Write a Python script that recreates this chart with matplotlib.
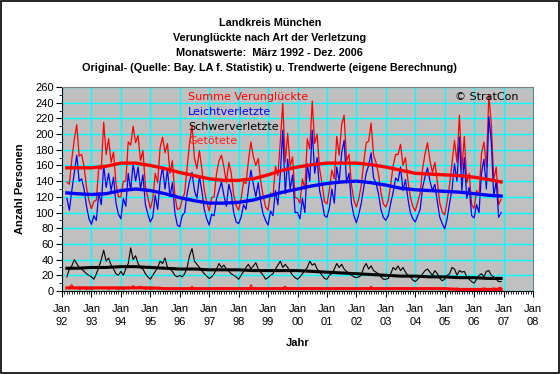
import numpy as np
import matplotlib.pyplot as plt
from matplotlib.ticker import MultipleLocator
from matplotlib.patches import Rectangle

plt.rcParams['font.family'] = ['Liberation Sans', 'DejaVu Sans']

# Monatswerte Maerz 1992 - Dez. 2006
start_year, start_month = 1992, 3

leicht = [
    118, 103, 128, 150, 173, 140, 143, 130, 108, 92,               # 1992
    85, 96, 90, 125, 110, 160, 132, 150, 128, 145, 112, 98,        # 1993
    92, 118, 108, 150, 128, 163, 140, 158, 130, 148, 110, 98,      # 1994
    88, 94, 122, 104, 140, 158, 130, 155, 120, 138, 100, 84,       # 1995
    82, 96, 100, 124, 140, 151, 128, 118, 146, 128, 104, 92,       # 1996
    84, 98, 96, 118, 128, 139, 122, 108, 136, 124, 100, 88,        # 1997
    86, 94, 110, 104, 130, 154, 136, 120, 138, 114, 98, 90,        # 1998
    84, 102, 96, 128, 110, 150, 205, 124, 168, 130, 148, 100,      # 1999
    100, 92, 118, 100, 162, 140, 205, 150, 170, 128, 114, 96,      # 2000
    94, 106, 130, 112, 158, 140, 176, 192, 138, 150, 112, 96,      # 2001
    87, 98, 112, 132, 150, 160, 176, 144, 138, 124, 104, 94,       # 2002
    90, 96, 112, 126, 144, 140, 158, 128, 142, 118, 100, 92,       # 2003
    88, 96, 104, 132, 146, 157, 140, 128, 136, 114, 94, 86,        # 2004
    79, 92, 112, 130, 162, 140, 196, 128, 170, 118, 132, 96,       # 2005
    93, 110, 100, 150, 168, 130, 222, 190, 120, 140, 94, 100,      # 2006
]

schwer = [
    18, 28, 32, 40, 35, 30, 28, 25, 22, 20,
    18, 15, 22, 30, 40, 52, 38, 42, 33, 28, 22, 20,
    25, 20, 28, 35, 55, 40, 45, 35, 30, 28, 22, 18,
    15, 20, 25, 30, 38, 35, 42, 30, 28, 25, 20, 18,
    20, 18, 22, 30, 45, 54, 38, 34, 30, 26, 22, 19,
    16, 18, 22, 28, 35, 30, 33, 28, 25, 22, 20, 18,
    15, 20, 25, 30, 34, 28, 32, 36, 28, 24, 20, 15,
    17, 20, 22, 28, 33, 38, 30, 34, 30, 25, 20, 17,
    15, 18, 22, 26, 30, 38, 33, 35, 28, 24, 20, 16,
    15, 20, 22, 28, 35, 30, 34, 28, 25, 22, 20, 18,
    17, 18, 20, 30, 35, 28, 32, 26, 24, 22, 18, 15,
    15, 16, 22, 30, 27, 32, 26, 30, 24, 20, 18, 14,
    12, 15, 18, 22, 26, 28, 24, 20, 26, 22, 16, 13,
    15, 20, 22, 30, 28, 20, 26, 24, 25, 18, 15, 12,
    10, 15, 20, 22, 18, 25, 26, 20, 18, 15, 12, 12,
]

getoetet = [
    3, 5, 8, 3, 4, 2, 3, 4, 2, 3,
    2, 3, 4, 3, 5, 3, 4, 2, 3, 4, 3, 2,
    3, 2, 4, 5, 3, 7, 4, 5, 6, 3, 2, 3,
    2, 3, 3, 4, 5, 3, 4, 3, 2, 3, 2, 2,
    3, 2, 3, 4, 3, 6, 3, 4, 3, 2, 3, 2,
    2, 3, 2, 4, 3, 4, 3, 2, 3, 4, 2, 3,
    2, 3, 4, 3, 2, 8, 3, 4, 3, 2, 3, 2,
    2, 3, 2, 3, 4, 3, 4, 6, 3, 4, 3, 2,
    3, 2, 3, 4, 2, 3, 4, 3, 2, 4, 3, 2,
    2, 3, 2, 3, 4, 3, 2, 4, 3, 2, 3, 2,
    3, 2, 3, 2, 4, 3, 6, 3, 2, 3, 4, 2,
    2, 3, 2, 4, 3, 2, 3, 2, 4, 3, 2, 2,
    2, 2, 3, 2, 3, 4, 2, 3, 2, 3, 2, 2,
    3, 2, 2, 3, 2, 4, 2, 3, 2, 2, 3, 2,
    2, 3, 2, 3, 4, 3, 2, 3, 4, 3, 4, 5,
]

trend_dates = ['1992-03', '1992-07'] + \
    [f'{y}-{m:02d}' for y in range(1993, 2007) for m in (1, 7)] + ['2006-12']
trend_summe = [157, 157, 157, 159, 163, 163, 160, 156, 151, 147, 143, 141,
               141, 143, 148, 154, 158, 161, 163, 163, 163, 161, 158, 154,
               150, 149, 148, 147, 145, 142, 139]
trend_leicht = [125, 124, 123, 124, 128, 130, 128, 124, 119, 115, 112, 112,
                113, 116, 121, 126, 130, 134, 137, 139, 140, 138, 135, 131,
                129, 128, 127, 126, 124, 122, 121]
trend_schwer = [29, 29, 30, 30, 31, 31, 30, 29, 28, 28, 27, 27, 27, 26, 26,
                26, 26, 25, 24, 23, 22, 21, 20, 19, 19, 18, 18, 17, 17, 16, 16]
trend_tote = [4, 4, 4, 4, 4, 4, 4, 3, 3, 3, 3, 3, 3, 3, 3, 3, 3, 3, 3, 3, 3,
              3, 3, 3, 3, 3, 3, 2, 2, 2, 2]

year_ticks = list(range(1992, 2009))
tick_labels = [f'Jan\n{y % 100:02d}' for y in year_ticks]

# Summe = Leicht- + Schwerverletzte + Getoetete
summe = np.array(leicht) + np.array(schwer) + np.array(getoetet)

n = len(leicht)
x = start_year + (start_month - 1 + np.arange(n)) / 12.0
xt = np.array([int(d[:4]) + (int(d[5:]) - 1) / 12.0 for d in trend_dates])

fig = plt.figure(figsize=(5.6, 3.74), dpi=100)
fig.patch.set_facecolor('white')
fig.add_artist(Rectangle((0.001, 0.002), 0.997, 0.996, transform=fig.transFigure,
                         fill=False, edgecolor='black', linewidth=1.2))

ax = fig.add_axes([62/560, 1 - 291/374, 471/560, 204/374])
ax.set_facecolor('#c0c0c0')

ax.plot(x, summe, color='#ff0000', lw=0.9)
ax.plot(x, leicht, color='#0000ff', lw=0.9)
ax.plot(x, schwer, color='black', lw=0.8)
ax.plot(x, getoetet, color='#ff0000', lw=0.8)

ax.plot(xt, trend_summe, color='#ff0000', lw=2.4)
ax.plot(xt, trend_leicht, color='#0000ff', lw=2.4)
ax.plot(xt, trend_schwer, color='black', lw=2.2)
ax.plot(xt, trend_tote, color='#ff0000', lw=2.2)

ax.set_xlim(1992, 2008)
ax.set_ylim(0, 260)
ax.set_xticks(year_ticks)
ax.set_xticklabels(tick_labels, fontsize=8, linespacing=1.45)
ax.xaxis.set_minor_locator(MultipleLocator(1/12))
ax.yaxis.set_major_locator(MultipleLocator(20))
ax.yaxis.set_minor_locator(MultipleLocator(10))
ax.tick_params(axis='y', labelsize=8, length=4, width=0.8, pad=2)
ax.tick_params(axis='x', length=4, width=0.8, pad=5)
ax.tick_params(which='minor', length=2, width=0.6)
ax.grid(True, which='major', color='#00ffff', lw=1.0)
ax.set_axisbelow(True)

for s in ('top', 'right'):
    ax.spines[s].set_color('#808080')
for s in ('left', 'bottom'):
    ax.spines[s].set_color('black')

ax.set_ylabel('Anzahl Personen', fontsize=8, fontweight='bold', labelpad=7)
ax.set_xlabel('Jahr', fontsize=8, fontweight='bold', labelpad=8)

legend_font = ['DejaVu Sans']
ax.text(0.2675, 0.953, 'Summe Verunglückte', color='#ff0000', fontsize=8,
        family=legend_font, transform=ax.transAxes, va='center')
ax.text(0.2675, 0.878, 'Leichtverletzte', color='#0000ff', fontsize=8,
        family=legend_font, transform=ax.transAxes, va='center')
ax.text(0.2675, 0.806, 'Schwerverletzte', color='black', fontsize=8,
        family=legend_font, transform=ax.transAxes, va='center')
ax.text(0.2675, 0.734, 'Getötete', color='#ff2020', fontsize=8,
        family=legend_font, transform=ax.transAxes, va='center')
ax.text(0.834, 0.953, '© StratCon', color='black', fontsize=8,
        family=legend_font, transform=ax.transAxes, va='center')

titles = ['Landkreis München',
          'Verunglückte nach Art der Verletzung',
          'Monatswerte:  März 1992 - Dez. 2006',
          'Original- (Quelle: Bay. LA f. Statistik) u. Trendwerte (eigene Berechnung)']
for i, t in enumerate(titles):
    fig.text(0.482, 1 - (22.5 + 15.2 * i) / 374, t, ha='center', va='center',
             fontsize=7.8, fontweight='bold')

fig.savefig('out.png', dpi=100)
